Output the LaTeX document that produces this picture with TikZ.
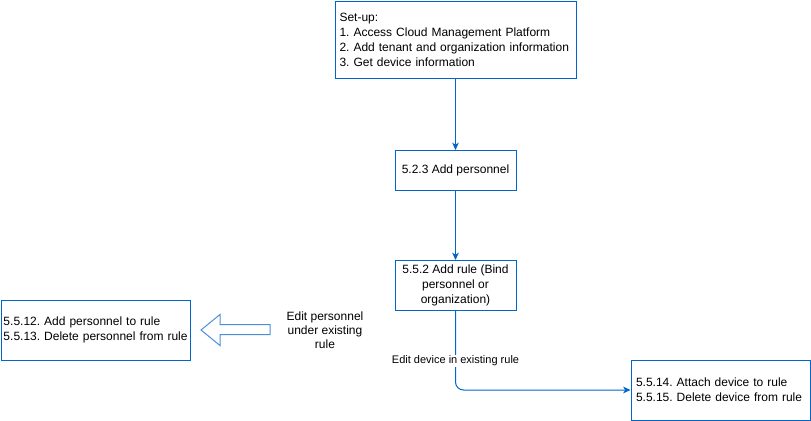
\documentclass[tikz,border=0pt]{standalone}
\usepackage{fontspec}
\setmainfont{Liberation Sans}
\usepackage{tikz}
\usetikzlibrary{arrows.meta,positioning}
\definecolor{dioBlue}{RGB}{0,102,204}
\definecolor{dioLight}{RGB}{74,144,217}
\frenchspacing
\hyphenpenalty=10000

\begin{document}
\begin{tikzpicture}[
  x=0.75pt, y=-0.75pt,
  every node/.style={font=\fontsize{9}{11.25}\selectfont, text=black},
  box/.style={draw=dioBlue, line width=0.75pt, inner ysep=0pt},
  listbox/.style={box, align=left},
  flow/.style={draw=dioBlue, line width=0.75pt, -{Stealth[length=5.5pt, width=5pt, inset=1.5pt]}},
  lbl/.style={fill=white, inner sep=1pt, font=\fontsize{8.25}{10}\selectfont},
]
  \useasboundingbox (0,0) rectangle (811,421);

  \node[listbox, text width=174pt, inner xsep=3.375pt, minimum height=57.75pt] (setup) at (455.5,39.5)
    {Set-up:\\1. Access Cloud Management Platform\\2. Add tenant and organization information\\3. Get device information};
  \node[box, minimum width=90.75pt, minimum height=30pt] (pers) at (455.5,170.5) {5.2.3 Add personnel};
  \node[box, align=center, minimum width=90.75pt, minimum height=37.5pt] (rule) at (455.5,285.5)
    {5.5.2 Add rule (Bind\\personnel or\\organization)};

  \draw[flow] (setup.south) -- (pers.north);
  \draw[flow] (pers.south) -- (rule.north);

  % personnel side
  \node[listbox, anchor=west, text width=138.75pt, inner xsep=1.5pt, minimum height=45pt] (perrule) at (1,330)
    {\mbox{5.5.12. Add personnel to rule}\\\mbox{5.5.13. Delete personnel from rule}};
  \draw[draw=dioLight, line width=0.75pt] (201,330) -- (220,314.5) -- (220,324.5) -- (270,324.5)
    -- (270,334.5) -- (220,334.5) -- (220,345.5) -- cycle;
  \node[align=center, font=\fontsize{9}{10.5}\selectfont] (perlbl) at (325,330) {Edit personnel\\under existing\\rule};

  % device side
  \node[listbox, anchor=west, text width=126.75pt, inner xsep=3.75pt, minimum height=45pt] (devrule) at (630.5,390)
    {5.5.14. Attach device to rule\\5.5.15. Delete device from rule};
  \draw[flow, rounded corners=6pt] (rule.south) |- (devrule.west);
  \node[lbl] (devlbl) at (455.5,361) {Edit device in existing rule};
\end{tikzpicture}
\end{document}
